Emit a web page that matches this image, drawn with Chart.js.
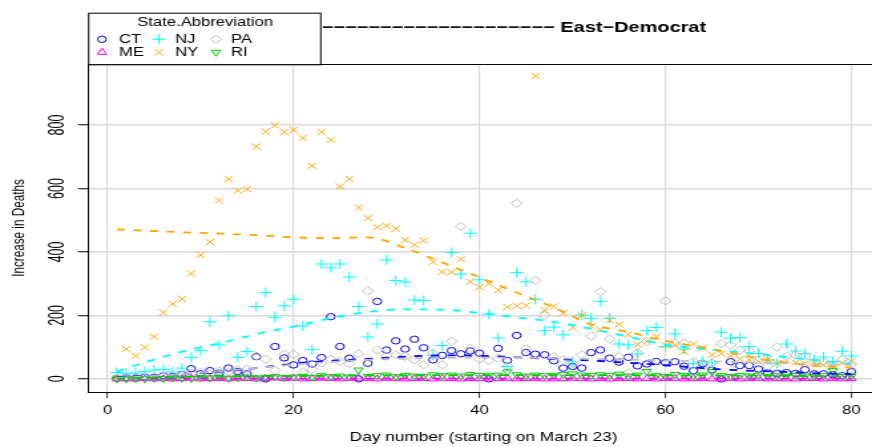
<!DOCTYPE html>
<html>
<head>
<meta charset="utf-8">
<script src="https://cdn.jsdelivr.net/npm/chart.js@4.4.1/dist/chart.umd.min.js"></script>
<style>
  html, body { margin: 0; padding: 0; width: 872px; height: 447px; overflow: hidden; background: #fff; }
  /* the plot is laid out on a narrower canvas and widened to the page width;
     the last few pixels on the right fall outside the page */
  #wrap { position: absolute; left: 0; top: 0; width: 663px; height: 447px;
          transform: scaleX(1.3293); transform-origin: 0 0; }
</style>
</head>
<body>
<div id="wrap"><canvas id="c" width="663" height="447"></canvas></div>
<script>
// ---- data: daily increase in deaths, day 1 = March 23 ----
const states = ['CT', 'ME', 'NJ', 'NY', 'PA', 'RI'];

const days = [];
for (let d = 1; d <= 80; d++) days.push(d);

const CT = [2,4,3,6,5,10,8,14,32,16, 26,18,34,23,16,70,0,102,66,44,
            58,47,67,196,102,65,0,49,244,91, 120,94,125,98,60,74,89,79,88,81,
            0,96,58,137,83,78,76,57,34,39, 34,83,91,65,53,68,41,47,55,51,
            54,40,26,48,28,0,54,42,42,31, 20,17,20,17,29,16,16,13,10,23];
const ME = [0,0,0,1,0,1,0,1,2,0, 1,1,0,2,1,0,1,3,1,2,
            0,1,2,1,0,1,2,1,0,2, 1,0,1,1,0,2,1,0,1,1,
            0,1,2,0,1,1,0,0,1,2, 1,0,1,0,1,1,0,1,0,1,
            2,0,1,1,0,0,1,0,1,2, 0,1,0,0,1,1,0,1,0,1];
const NJ = [20,18,18,23,28,30,22,34,68,89, 180,107,199,68,86,228,272,194,230,251,
            167,92,362,350,362,321,228,132,173,375, 310,305,249,247,75,105,398,330,459,312,
            204,129,39,335,306,251,152,163,139,54, 201,191,244,191,110,107,79,152,162,102,
            142,94,48,55,50,147,128,130,102,80, 60,49,110,88,79,60,69,55,87,72];
const NY = [5,94,73,99,133,209,236,252,332,390, 431,562,630,593,598,732,779,799,777,784,
            759,671,778,753,606,630,540,507,478,482, 473,437,423,436,369,337,336,377,306,289,
            300,280,226,230,231,954,217,228,207,162, 200,166,155,185,172,140,108,118,133,106,
            107,86,110,97,76,79,72,62,60,55, 62,49,58,52,48,54,44,38,50,55];
const PA = [2,3,5,4,6,8,10,12,18,20, 15,25,22,28,30,72,62,27,78,78,
            22,30,50,62,55,48,79,277,91,72, 76,71,60,45,81,45,118,480,96,62,
            58,65,40,553,95,310,200,70,60,48, 76,135,275,125,70,20,82,118,8,246,
            113,113,55,40,50,111,107,91,88,60, 40,100,72,76,72,49,55,45,60,47];
const RI = [0,0,1,0,2,1,3,2,1,4, 3,5,2,4,6,3,5,7,4,6,
            8,5,10,7,9,6,28,8,10,12, 7,11,9,8,13,10,12,9,14,11,
            10,12,22,13,9,12,10,11,14,16, 12,10,13,11,15,9,12,23,10,8,
            14,11,9,12,23,10,8,11,9,12, 7,10,8,11,9,7,10,26,8,9];

// smoothed trend per state, sampled along the day axis
const trendDays = [1,4,8,12,16,20,24,28,32,36,40,44,48,52,56,60,64,68,72,76,80];
const CT_trend = [5,9,15,22,34,48,57,63,70,74,73,68,63,58,51,43,34,27,23,18,15];
const ME_trend = [1,1,1,1,1,1,1,1,1,1,1,1,1,1,1,1,1,1,1,1,1];
const NJ_trend = [23,52,86,112,141,165,191,211,219,218,208,194,180,158,133,108,95,84,72,59,48];
const NY_trend = [471,467,462,458,453,446,444,446,412,367,320,272,225,172,148,120,99,76,55,42,35];
const PA_trend = [3,8,15,24,34,45,53,60,64,66,67,67,65,63,61,58,56,53,50,47,44];
const RI_trend = [1,3,5,7,8,9,10,11,11,12,12,12,12,12,12,11,11,10,10,9,9];

const xTicks = [0, 20, 40, 60, 80];
const yTicks = [0, 200, 400, 600, 800];

const chartTitle = '−−−−−−−−−−−−−−−−−−−− East−Democrat';
const xTitle = 'Day number (starting on March 23)';
const yTitle = 'Increase in Deaths';
const legendTitle = 'State.Abbreviation';

// ---- styles ----
const style = {
  CT: { color: '#0000ff', pointStyle: 'circle',   radius: 3.2, rotation: 0 },
  ME: { color: '#ff00ff', pointStyle: 'triangle', radius: 4,   rotation: 0 },
  NJ: { color: '#00ffff', pointStyle: 'cross',    radius: 5,   rotation: 0 },
  NY: { color: '#ffa500', pointStyle: 'crossRot', radius: 4.5, rotation: 0 },
  PA: { color: '#bebebe', pointStyle: 'rectRot',  radius: 4.2, rotation: 0 },
  RI: { color: '#00cd00', pointStyle: 'triangle', radius: 4,   rotation: 180 }
};
const values = { CT, ME, NJ, NY, PA, RI };
const trends = { CT: CT_trend, ME: ME_trend, NJ: NJ_trend, NY: NY_trend, PA: PA_trend, RI: RI_trend };

const datasets = [];
states.forEach((s, i) => {
  const st = style[s];
  datasets.push({
    type: 'scatter',
    label: s,
    data: days.map((d, k) => ({ x: d, y: values[s][k] })),
    showLine: false,
    pointStyle: st.pointStyle,
    pointRadius: st.radius,
    pointRotation: st.rotation,
    pointBorderColor: st.color,
    pointBackgroundColor: 'rgba(0,0,0,0)',
    pointBorderWidth: 1,
    order: 20 - i
  });
});
states.forEach((s, i) => {
  datasets.push({
    type: 'line',
    label: s + ' trend',
    data: trendDays.map((d, k) => ({ x: d, y: trends[s][k] })),
    borderColor: style[s].color,
    borderWidth: 1.8,
    borderDash: [6, 6.5],
    pointRadius: 0,
    fill: false,
    cubicInterpolationMode: 'monotone',
    order: 10 - i
  });
});

const FONT = '"Liberation Sans", Arial, Helvetica, sans-serif';

// rotated text centred on (cx, cy), glyphs centred on the cap height
function rotatedText(ctx, text, cx, cy, size, sx, sy) {
  ctx.save();
  ctx.translate(cx, cy);
  ctx.rotate(-Math.PI / 2);
  ctx.scale(sx, sy);
  ctx.font = size + 'px ' + FONT;
  ctx.textAlign = 'center';
  ctx.textBaseline = 'alphabetic';
  ctx.fillText(text, 0, 0.358 * size);
  ctx.restore();
}

// frame, rotated axis text, title and legend box
const decorations = {
  id: 'decorations',
  afterDraw(chart) {
    const { ctx, chartArea: a, scales: { y } } = chart;
    ctx.save();
    ctx.strokeStyle = '#000';
    ctx.lineWidth = 1;
    ctx.beginPath();
    ctx.moveTo(a.left, a.top + 0.5);
    ctx.lineTo(chart.width, a.top + 0.5);
    ctx.stroke();

    ctx.fillStyle = '#000';

    // y tick labels, parallel to the axis
    yTicks.forEach(v => rotatedText(ctx, String(v), 42.3, y.getPixelForValue(v), 12.5, 1.0, 1.35));

    // y axis title
    rotatedText(ctx, yTitle, 13.3, 228, 13, 0.9, 1);

    // x axis title
    ctx.textAlign = 'center';
    ctx.textBaseline = 'middle';
    ctx.font = '13px ' + FONT;
    ctx.fillText(xTitle, 363.8, 437);

    // main title
    ctx.font = 'bold 15px ' + FONT;
    ctx.textAlign = 'right';
    ctx.fillText(chartTitle, 531.2, 28);

    // legend box
    const L = { x: 66.2, y: 12.7, w: 174.6, h: 51.6 };
    ctx.fillStyle = '#fff';
    ctx.fillRect(L.x, L.y, L.w, L.h);
    ctx.strokeStyle = '#000';
    ctx.lineWidth = 1;
    ctx.strokeRect(L.x + 0.5, L.y + 0.5, L.w, L.h);
    ctx.fillStyle = '#000';
    ctx.textAlign = 'center';
    ctx.font = '12.5px ' + FONT;
    ctx.fillText(legendTitle, 154.3, 22.3);

    const colSym = [76.7, 119.6, 162.5];
    const colTxt = [89.5, 131.7, 173.8];
    const rowY = [39.3, 52.3];
    ctx.textAlign = 'left';
    states.forEach((s, i) => {
      const col = Math.floor(i / 2), row = i % 2;
      const st = style[s];
      ctx.strokeStyle = st.color;
      ctx.fillStyle = 'rgba(0,0,0,0)';
      ctx.lineWidth = 1;
      Chart.helpers.drawPoint(ctx, {
        pointStyle: st.pointStyle, radius: st.radius, rotation: st.rotation, borderWidth: 1
      }, colSym[col], rowY[row]);
      ctx.fillStyle = '#000';
      ctx.fillText(s, colTxt[col], rowY[row] + 0.5);
    });
    ctx.restore();
  }
};

new Chart(document.getElementById('c').getContext('2d'), {
  type: 'scatter',
  data: { datasets },
  options: {
    responsive: false,
    animation: false,
    events: [],
    layout: { padding: { top: 64, left: 0, right: 0, bottom: 0 } },
    plugins: { legend: { display: false }, tooltip: { enabled: false }, title: { display: false } },
    scales: {
      x: {
        type: 'linear', min: -2.1, max: 82.36,
        afterBuildTicks(s) { s.ticks = xTicks.map(v => ({ value: v })); },
        afterFit(s) { s.height = 55; },
        grid: { color: '#d9d9d9', lineWidth: 1.15, drawTicks: true, tickLength: 6, tickColor: '#000', tickWidth: 0.8 },
        border: { display: true, color: '#000', width: 1 },
        ticks: { color: '#000', font: { family: FONT, size: 12.5 }, padding: 5, maxRotation: 0, minRotation: 0 }
      },
      y: {
        type: 'linear', min: -41.3, max: 992.1,
        afterBuildTicks(s) { s.ticks = yTicks.map(v => ({ value: v })); },
        afterFit(s) { s.width = 66.2; },
        grid: { color: '#d9d9d9', lineWidth: 1.5, drawTicks: true, tickLength: 7.5, tickColor: '#000', tickWidth: 1 },
        border: { display: true, color: '#000', width: 1 },
        ticks: { display: false }
      }
    }
  },
  plugins: [decorations]
});
</script>
</body>
</html>
